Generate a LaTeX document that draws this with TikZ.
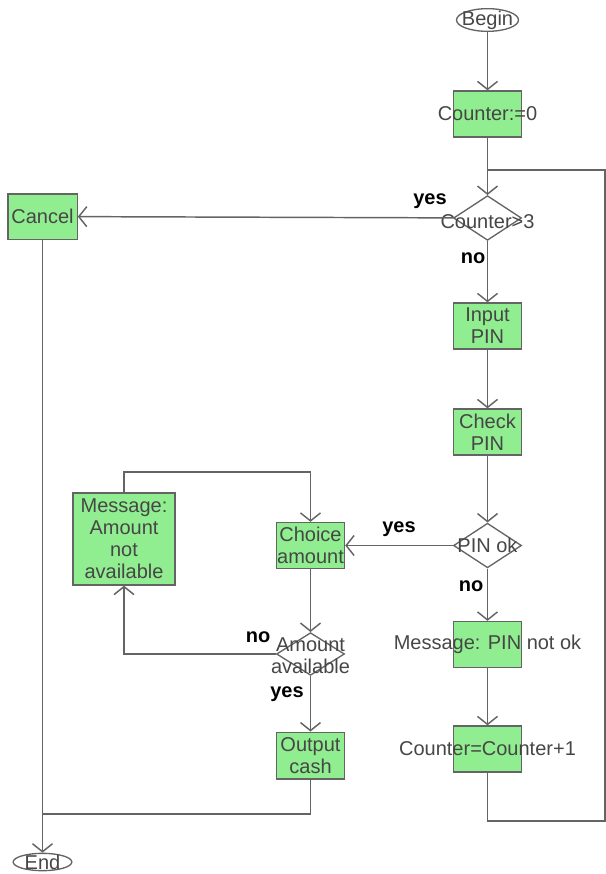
\documentclass[tikz,border=0pt]{standalone}
\usepackage{fontspec}
\setmainfont{Liberation Sans}
\usetikzlibrary{shapes.geometric, arrows.meta, positioning, calc}
\definecolor{boxgreen}{RGB}{144,238,144}
\definecolor{lineGray}{RGB}{100,100,100}
\definecolor{txtGray}{RGB}{70,70,70}

\begin{document}
\begin{tikzpicture}[x=0.75pt, y=-0.75pt,
    font=\fontsize{15}{16.5}\selectfont,
    flow/.style={draw=lineGray, line width=1.1pt, -{Straight Barb[length=6pt,width=15pt]}},
    link/.style={draw=lineGray, line width=1.1pt},
    txt/.style={text=txtGray, align=center, inner sep=0pt},
    proc/.style={rectangle, draw=lineGray, line width=1pt, fill=boxgreen,
                 minimum width=51pt, minimum height=34.5pt, inner sep=0pt},
    test/.style={diamond, draw=lineGray, line width=1pt, fill=white,
                 minimum width=51pt, minimum height=33.5pt, inner sep=0pt},
    term/.style={ellipse, draw=lineGray, line width=1pt, fill=white, inner sep=0pt},
    answer/.style={font=\fontsize{15}{16.5}\selectfont\bfseries, text=black, inner sep=0pt}]

\useasboundingbox (0,0) rectangle (606,874);

% ================== Right column: PIN ==================
\node[term, minimum width=46.5pt, minimum height=17pt,
      label={[txt]center:Begin}] (Begin) at (487.5,20) {};
\node[proc, label={[txt]center:Counter:=0}] (Init) at (487.5,114) {};
\node[test, label={[txt, yshift=-3pt]center:Counter>3}] (CntTest) at (487.5,218) {};
\node[proc, label={[txt]center:Input\\PIN}] (InputPin) at (487.5,326) {};
\node[proc, label={[txt]center:Check\\PIN}] (CheckPin) at (487.5,432) {};
\node[test, label={[txt]center:PIN ok}] (PinOk) at (487.5,545.5) {};
\node[proc, label={[txt]center:Message: PIN not ok}] (MsgPin) at (487.5,644.5) {};
\node[proc, label={[txt]center:Counter=Counter+1}] (Incr) at (487.5,749) {};

% ================== Left part: amount ==================
\node[proc, minimum width=52pt, minimum height=34pt,
      label={[txt]center:Cancel}] (Cancel) at (42.5,216.5) {};
\node[proc, label={[txt]center:Choice\\amount}] (Choice) at (310.5,545.5) {};
\node[test, minimum height=32pt,
      label={[txt, yshift=-1.5pt]center:Amount\\available}] (Avail) at (310.5,654) {};
\node[proc, minimum width=76.5pt, minimum height=69pt,
      label={[txt]center:Message:\\Amount\\not\\available}] (MsgAmt) at (124,539) {};
\node[proc, minimum height=35pt, label={[txt]center:Output\\cash}] (Output) at (310.5,755.5) {};
\node[term, minimum width=44pt, minimum height=13pt,
      label={[txt]center:End}] (End) at (42.5,862) {};

% Corner points of the loops
\coordinate (LoopIn) at (487.5,170);
\coordinate (LoopR) at (605,821);
\coordinate (AmtTop) at (310.5,472);
\coordinate (Join) at (42.5,814);

% ================== Connectors ==================
\draw[flow] (Begin) -- (Init);
\draw[flow] (Init) -- (CntTest);
\draw[flow] (CntTest) -- (Cancel);
\draw[flow] (CntTest) -- (InputPin);
\draw[flow] (InputPin) -- (CheckPin);
\draw[flow] (CheckPin) -- (PinOk);
\draw[flow] (PinOk) -- (Choice);
\draw[flow] (PinOk) -- (MsgPin);
\draw[flow] (MsgPin) -- (Incr);
\draw[link] (Incr.south) |- (LoopR) |- (LoopIn);
\draw[flow] (Choice) -- (Avail);
\draw[flow] (Avail.west) -| (MsgAmt.south);
\draw[flow] (MsgAmt.north) |- (AmtTop) -- (Choice.north);
\draw[flow] (Avail) -- (Output);
\draw[link] (Output.south) |- (Join);
\draw[flow] (Cancel) -- (End);

% Answers
\node[answer] (YesCnt) at (430,201) {yes};
\node[answer] (NoCnt) at (473,258) {no};
\node[answer] (YesPin) at (399,529) {yes};
\node[answer] (NoPin) at (471,586) {no};
\node[answer] (NoAmt) at (258,637) {no};
\node[answer] (YesAmt) at (287,694) {yes};

\end{tikzpicture}
\end{document}
